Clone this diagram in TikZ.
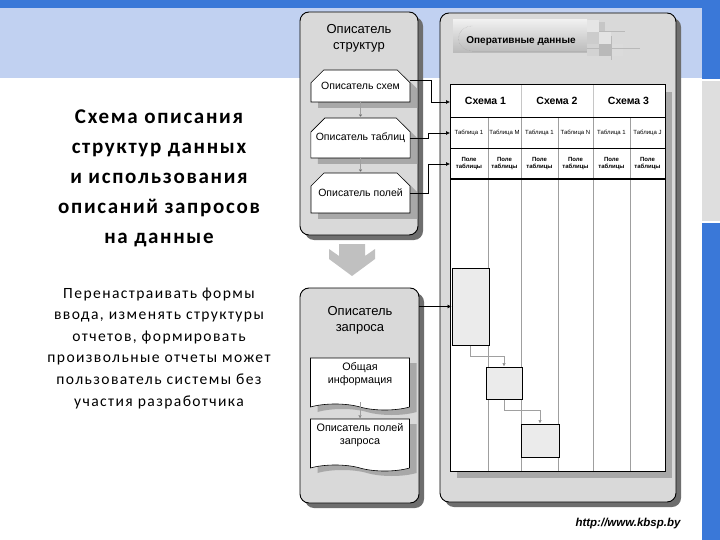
\documentclass[tikz,border=0pt]{standalone}
\usepackage{fontspec}
\setmainfont{Liberation Sans}
\newfontfamily\calfont[LetterSpace=8]{Carlito}
\newfontfamily\calbody[LetterSpace=9]{Carlito}
\usetikzlibrary{shapes.misc,shapes.symbols,shadows,arrows.meta,calc}
\definecolor{dblue}{RGB}{58,120,216}
\definecolor{lblue}{RGB}{193,209,241}
\definecolor{panelgray}{RGB}{217,217,217}
\definecolor{panelshadow}{RGB}{110,110,110}
\definecolor{boxshadow}{RGB}{168,168,168}
\definecolor{cellfill}{RGB}{235,235,235}
\definecolor{stripgray}{RGB}{222,222,222}
\definecolor{arrowgray}{RGB}{192,192,192}
\definecolor{linegray}{RGB}{160,160,160}
\tikzset{
  panel/.style={draw=black, line width=0.9pt, fill=panelgray, rounded corners=9pt,
    inner sep=0pt, drop shadow={shadow xshift=5pt, shadow yshift=-5pt, fill=panelshadow, opacity=1}},
  ptitle/.style={align=center, font=\fontsize{13}{16}\selectfont},
  chambox/.style={chamfered rectangle, chamfered rectangle corners={north west,north east},
    chamfered rectangle xsep=9pt, chamfered rectangle ysep=9pt, draw=black, line width=0.6pt,
    fill=white, minimum width=99pt, inner sep=0pt, font=\fontsize{10.5}{12}\selectfont,
    drop shadow={shadow xshift=7pt, shadow yshift=-6pt, fill=boxshadow, opacity=1}},
  docbox/.style={tape, tape bend top=none, tape bend bottom=out and in, tape bend height=6pt,
    draw=black, line width=0.6pt, fill=white, minimum width=99pt, inner sep=0pt,
    drop shadow={shadow xshift=7pt, shadow yshift=-5pt, fill=boxshadow, opacity=1}},
  doctext/.style={align=center, font=\fontsize{10.8}{13}\selectfont},
  procbox/.style={draw=black, line width=1pt, fill=cellfill, inner sep=0pt},
  conn/.style={draw=black, line width=0.6pt, -{Latex[length=4pt,width=4pt]}},
  gconn/.style={draw=linegray, line width=0.6pt, -{Latex[length=3.5pt,width=3.5pt,fill=black]}},
  schema/.style={font=\bfseries\fontsize{10.5}{12}\selectfont},
  tabl/.style={font=\fontsize{6}{7}\selectfont, inner sep=0pt},
  field/.style={font=\bfseries\fontsize{6}{7.5}\selectfont, align=center, inner sep=0pt},
}
\begin{document}
\begin{tikzpicture}[x=1pt,y=-1pt]
\useasboundingbox (0,0) rectangle (720,540);
% background
\fill[white] (0,0) rectangle (720,540);
\fill[lblue] (0,8) rectangle (702,78);
\fill[dblue] (0,0) rectangle (720,8);
\fill[dblue] (702,0) rectangle (720,79);
\fill[stripgray] (702,81) rectangle (720,221);
\fill[dblue] (702,223) rectangle (720,540);

% left texts
\node[align=center, font=\calfont\bfseries\fontsize{21}{30}\selectfont] (title) at (159,178)
  {Схема описания\\структур данных\\и использования\\описаний запросов\\на данные};
\node[align=center, font=\calbody\fontsize{15.6}{21.6}\selectfont] (body) at (159,348)
  {Перенастраивать формы\\ввода, изменять структуры\\отчетов, формировать\\произвольные отчеты может\\пользователь системы без\\участия разработчика};

% panel 1
\node[panel, minimum width=118pt, minimum height=223pt] (p1) at (359,123.5) {};
\node[ptitle] (p1t) at (359,38) {Описатель\\структур};
\node[chambox, minimum height=32pt] (b1) at (360.5,86) {Описатель схем};
\node[chambox, minimum height=40pt] (b2) at (360.5,138) {Описатель таблиц};
\node[chambox, minimum height=40pt] (b3) at (360.5,193) {Описатель полей};
\draw[gconn] (b1.south) -- (b2.north);
\draw[gconn] (b2.south) -- (b3.north);

% big arrow
\fill[arrowgray] (339,244) -- (365,244) -- (365,256) -- (375,249) -- (375,259) -- (352,276)
  -- (329,259) -- (329,249) -- (339,256) -- cycle;

% panel 3
\node[panel, minimum width=119pt, minimum height=215pt] (p3) at (359.5,395.5) {};
\node[ptitle] (p3t) at (360,320) {Описатель\\запроса};
\node[docbox, minimum height=52pt] (d1) at (360,381) {};
\node[doctext] (d1t) at (360,374) {Общая\\информация};
\node[docbox, minimum height=52pt] (d2) at (360,442) {};
\node[doctext] (d2t) at (360,435) {Описатель полей\\запроса};
\draw[gconn] (d1t.south |- 0,402) -- (d2.north);

% panel 2
\node[panel, minimum width=236pt, minimum height=489pt] (p2) at (558,257.5) {};
% header
\node[top color=gray!12, bottom color=gray!55, minimum width=134pt, minimum height=33pt, inner sep=0pt]
  (hdr) at (520,36.5) {};
\draw[gray!70, densely dotted, line width=0.4pt] (472,26) .. controls (454,27) and (454,50) .. (472,51);
\draw[gray!60, line width=0.4pt] (472,51) -- (587,51);
\node[font=\bfseries\fontsize{10}{12}\selectfont] (hdrt) at (521,41.5) {Оперативные данные};
% mosaic
\fill[gray!20] (587,20) rectangle (599,32);
\fill[gray!40] (587,32) rectangle (599,44);
\fill[gray!22] (599,32) rectangle (611,44);
\fill[gray!35] (587,44) rectangle (599,56);
\fill[gray!55] (599,44) rectangle (611,56);
\fill[gray!28] (611,44) rectangle (623,56);
\fill[gray!45] (599,22) rectangle (605,32);
\draw[gray!55, line width=0.3pt] (599,31) -- (625,31);
\draw[gray!55, line width=0.3pt] (611,36) -- (611,60);
\draw[gray!55, line width=0.3pt] (587,48) -- (640,48);

% table
\fill[boxshadow] (457,92) rectangle (672,478);
\fill[white] (450,85) rectangle (665,471);
\foreach \xx in {488,521,558,593,630} \draw[gray!75, line width=0.6pt] (\xx,117) -- (\xx,471);
\foreach \xx in {521,593} \draw[gray!45, line width=0.6pt] (\xx,85) -- (\xx,117);
\draw[black, line width=0.8pt] (450,117) -- (665,117);
\draw[black, line width=0.8pt] (450,148) -- (665,148);
\draw[black, line width=1.3pt] (450,179) -- (665,179);
\draw[black, line width=1pt] (450,85) rectangle (665,471);
\coordinate (r1) at (450,102);
\coordinate (r2) at (450,133);
\coordinate (r3) at (450,164);
\node[schema] (s1) at (485.5,101) {Схема 1};
\node[schema] (s2) at (557,101) {Схема 2};
\node[schema] (s3) at (628.5,101) {Схема 3};
\node[tabl] (t1) at (469,132.5) {Таблица 1};
\node[tabl] (t2) at (504.5,132.5) {Таблица M};
\node[tabl] (t3) at (539.5,132.5) {Таблица 1};
\node[tabl] (t4) at (575.5,132.5) {Таблица N};
\node[tabl] (t5) at (611.5,132.5) {Таблица 1};
\node[tabl] (t6) at (647.5,132.5) {Таблица J};
\foreach \xx/\nm in {469/f1,504.5/f2,539.5/f3,575.5/f4,611.5/f5,647.5/f6}
  \node[field] (\nm) at (\xx,163.5) {Поле\\таблицы};

% process boxes
\node[procbox, minimum width=37pt, minimum height=77pt] (A) at (470.5,306.5) {};
\node[procbox, minimum width=36pt, minimum height=32pt] (B) at (504,383) {};
\node[procbox, minimum width=38pt, minimum height=33pt] (C) at (540,440.5) {};
\draw[gconn] (A.south) -- ++(0,11) -| (B.north);
\draw[gconn] (B.south) -- ++(0,11) -| (C.north);

% connectors
\draw[conn] ([yshift=6pt]b1.east) -| ($(r1)+(-19,0)$) -- (r1);
\draw[conn] (b2.east) -| ($(r2)+(-22,0)$) -- (r2);
\draw[conn] (b3.east) -| ($(r3)+(-22,0)$) -- (r3);
\draw[conn] (p3.east |- A.west) -- (A.west);

% footer
\node[font=\bfseries\itshape\fontsize{11.5}{13}\selectfont] (url) at (628,524) {http://www.kbsp.by};
\end{tikzpicture}
\end{document}
